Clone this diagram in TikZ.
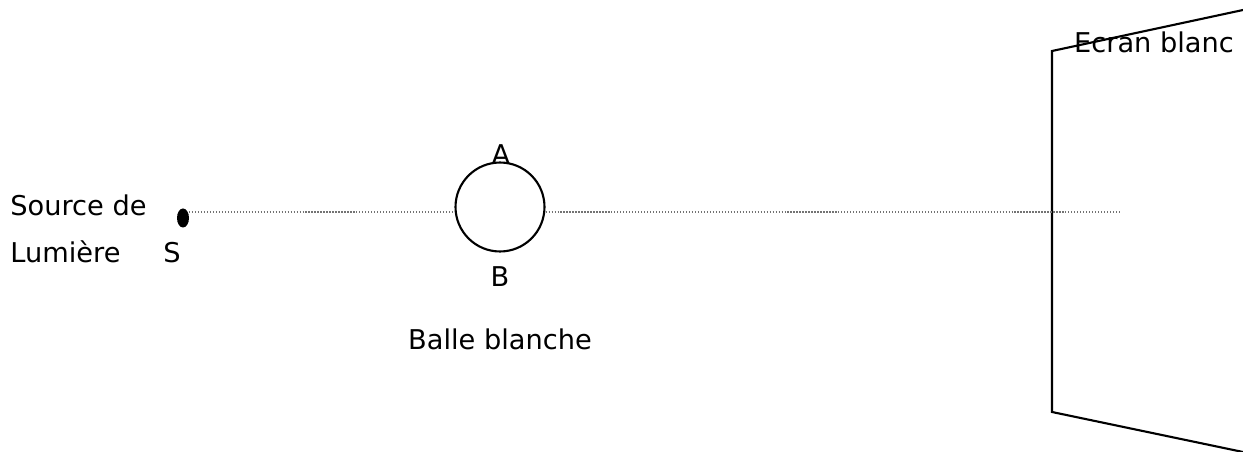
\documentclass[tikz,border=0pt]{standalone}
\usepackage{fontspec}
\setmainfont{DejaVu Sans}
\begin{document}
\begin{tikzpicture}[x=0.02cm,y=-0.02cm,
    lbl/.style={font=\fontsize{15.5}{18}\selectfont, inner sep=0pt, anchor=base},
    rayon/.style={black!55, dash pattern=on 0.7pt off 1.0pt, line width=0.6pt}]
    \useasboundingbox (0,0) rectangle (1243,452);

    % source
    \fill (183,218) ellipse (6 and 9.5);
    \coordinate (s) at (189,212);
    \draw (10,216) node[lbl, anchor=base west] {Source de};
    \draw (10,263) node[lbl, anchor=base west] {Lumière};
    \draw (172,263) node[lbl] {S};

    % balle
    \node (balle) [draw, circle, line width=1.2pt, minimum size=1.78cm, inner sep=0pt] at (500,207) {};
    \draw (501,165) node[lbl] {A};
    \draw (500,287) node[lbl] {B};
    \draw (500,349) node[lbl] {Balle blanche};

    % ecran
    \coordinate (e1) at (1243,10);
    \coordinate (e2) at (1052,51);
    \coordinate (e3) at (1052,412);
    \coordinate (e4) at (1243,452);
    \draw[line width=1.2pt] (e1) -- (e2) -- (e3) -- (e4);
    \draw (1154,53) node[lbl] {Ecran blanc};

    % rayon
    \coordinate (fin) at (1120,212);
    \draw[rayon] (s) -- (balle.west |- s);
    \draw[rayon] (balle.east |- s) -- (fin);
\end{tikzpicture}
\end{document}
